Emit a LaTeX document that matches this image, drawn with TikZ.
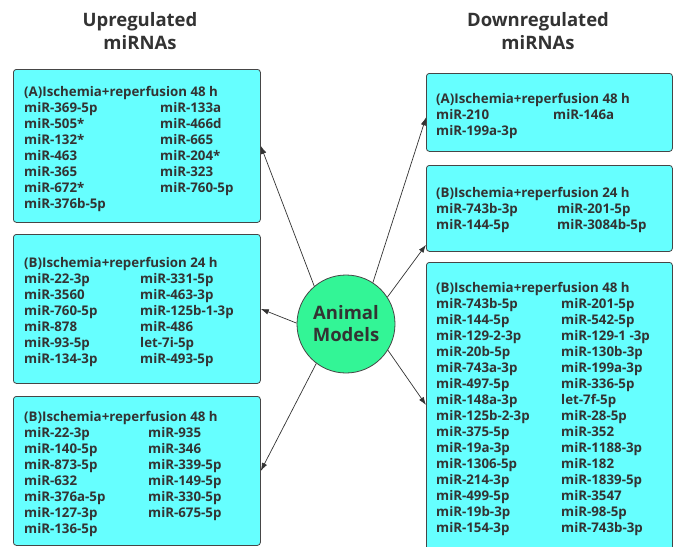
\documentclass[tikz,border=0pt]{standalone}
\usepackage{fontspec}
\setmainfont{Open Sans}
\usepackage{xcolor}
\usetikzlibrary{arrows.meta,positioning}

\definecolor{boxcyan}{RGB}{102,255,255}
\definecolor{hubgreen}{RGB}{51,245,150}
\definecolor{inkgray}{RGB}{51,51,51}
\definecolor{edgegray}{RGB}{70,70,70}

\tikzset{
  listbox/.style={draw=edgegray, line width=0.8pt, fill=boxcyan, rounded corners=3pt,
    anchor=north west, inner sep=0pt},
  listtext/.style={anchor=north west, inner sep=0pt, text=inkgray,
    font=\bfseries\fontsize{13.3}{16}\selectfont},
  headtext/.style={align=center, text=inkgray, font=\bfseries\fontsize{18.5}{23}\selectfont},
  hub/.style={circle, draw=edgegray, line width=0.8pt, fill=hubgreen, minimum size=98pt,
    align=center, text=inkgray, font=\bfseries\fontsize{18.5}{22}\selectfont},
  link/.style={draw=inkgray, line width=0.7pt, -{Latex[length=8pt,width=5.5pt]}}
}

\begin{document}
\begin{tikzpicture}[x=1pt, y=-1pt]
  \clip (0,0) rectangle (674,546);
  \fill[white] (0,0) rectangle (674,546);

  % column titles
  \node[headtext] (uptitle) at (140,31.5) {Upregulated\\miRNAs};
  \node[headtext] (downtitle) at (538,31.5) {Downregulated\\miRNAs};

  % upregulated boxes
  \node[listbox, minimum width=247pt, minimum height=153pt] (u1) at (13,69) {};
  \node[listtext] (u1t) at ([shift={(11,16)}]u1.north west) {%
    \begin{tabular}{@{}p{136pt}@{}l@{}}
      \multicolumn{2}{@{}l@{}}{(A)Ischemia+reperfusion 48 h}\\
      miR-369-5p & miR-133a\\
      miR-505* & miR-466d\\
      miR-132* & miR-665\\
      miR-463 & miR-204*\\
      miR-365 & miR-323\\
      miR-672* & miR-760-5p\\
      miR-376b-5p & \\
    \end{tabular}};

  \node[listbox, minimum width=247pt, minimum height=149pt] (u2) at (13,234) {};
  \node[listtext] (u2t) at ([shift={(11,22)}]u2.north west) {%
    \begin{tabular}{@{}p{116pt}@{}l@{}}
      \multicolumn{2}{@{}l@{}}{(B)Ischemia+reperfusion 24 h}\\
      miR-22-3p & miR-331-5p\\
      miR-3560 & miR-463-3p\\
      miR-760-5p & miR-125b-1-3p\\
      miR-878 & miR-486\\
      miR-93-5p & let-7i-5p\\
      miR-134-3p & miR-493-5p\\
    \end{tabular}};

  \node[listbox, minimum width=247pt, minimum height=149pt] (u3) at (13,396) {};
  \node[listtext] (u3t) at ([shift={(11,14)}]u3.north west) {%
    \begin{tabular}{@{}p{124pt}@{}l@{}}
      \multicolumn{2}{@{}l@{}}{(B)Ischemia+reperfusion 48 h}\\
      miR-22-3p & miR-935\\
      miR-140-5p & miR-346\\
      miR-873-5p & miR-339-5p\\
      miR-632 & miR-149-5p\\
      miR-376a-5p & miR-330-5p\\
      miR-127-3p & miR-675-5p\\
      miR-136-5p & \\
    \end{tabular}};

  % downregulated boxes
  \node[listbox, minimum width=246pt, minimum height=78pt] (dA) at (426,73) {};
  \node[listtext] (dAt) at ([shift={(10,19)}]dA.north west) {%
    \begin{tabular}{@{}p{117pt}@{}l@{}}
      \multicolumn{2}{@{}l@{}}{(A)Ischemia+reperfusion 48 h}\\
      miR-210 & miR-146a\\
      miR-199a-3p & \\
    \end{tabular}};

  \node[listbox, minimum width=246pt, minimum height=86pt] (dB) at (426,165) {};
  \node[listtext] (dBt) at ([shift={(10,21)}]dB.north west) {%
    \begin{tabular}{@{}p{121pt}@{}l@{}}
      \multicolumn{2}{@{}l@{}}{(B)Ischemia+reperfusion 24 h}\\
      miR-743b-3p & miR-201-5p\\
      miR-144-5p & miR-3084b-5p\\
    \end{tabular}};

  \node[listbox, minimum width=246pt, minimum height=300pt] (dC) at (426,262) {};
  \node[listtext] (dCt) at ([shift={(10,19)}]dC.north west) {%
    \begin{tabular}{@{}p{125pt}@{}l@{}}
      \multicolumn{2}{@{}l@{}}{(B)Ischemia+reperfusion 48 h}\\
      miR-743b-5p & miR-201-5p\\
      miR-144-5p & miR-542-5p\\
      miR-129-2-3p & miR-129-1 -3p\\
      miR-20b-5p & miR-130b-3p\\
      miR-743a-3p & miR-199a-3p\\
      miR-497-5p & miR-336-5p\\
      miR-148a-3p & let-7f-5p\\
      miR-125b-2-3p & miR-28-5p\\
      miR-375-5p & miR-352\\
      miR-19a-3p & miR-1188-3p\\
      miR-1306-5p & miR-182\\
      miR-214-3p & miR-1839-5p\\
      miR-499-5p & miR-3547\\
      miR-19b-3p & miR-98-5p\\
      miR-154-3p & miR-743b-3p\\
    \end{tabular}};

  % hub and links
  \node[hub] (animal) at (346,324) {Animal\\Models};

  \draw[link] (animal.130) -- (u1.east);
  \draw[link] (animal.179) -- (u2.east);
  \draw[link] (animal.233) -- (u3.east);
  \draw[link] (animal.57) -- ([yshift=-5pt]dA.west);
  \draw[link] (animal.33) -- ([yshift=7pt]dB.south west);
  \draw[link] (animal.328) -- ([yshift=-143pt]dC.north west);
\end{tikzpicture}
\end{document}
